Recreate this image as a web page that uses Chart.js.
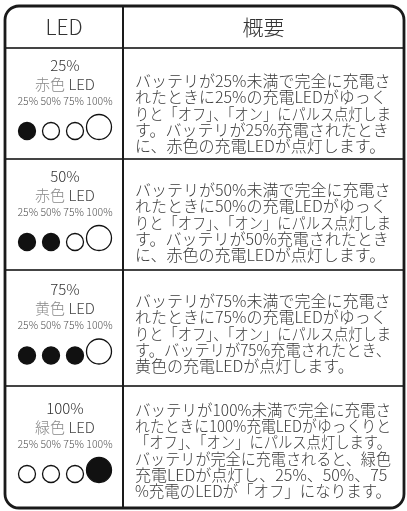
<!DOCTYPE html>
<html lang="ja">
<head>
<meta charset="utf-8">
<script src="https://cdn.jsdelivr.net/npm/chart.js@4"></script>
<style>
  html, body { margin: 0; padding: 0; background: #fff; }
  #wrap { width: 407px; height: 511px; position: relative; }
</style>
</head>
<body>
<div id="wrap"><canvas id="ledChart"></canvas></div>
<script>
// 充電レベル（行）
const levels = ['25%', '50%', '75%', '100%'];
const colorNames = ['赤色', '赤色', '黄色', '緑色'];
// LEDの並び（列）
const ledLabels = ['25%', '50%', '75%', '100%'];
// 点灯状態 1 = 点灯, 0 = 消灯
const ledStates = [
    [1, 0, 0, 0],
    [1, 1, 0, 0],
    [1, 1, 1, 0],
    [0, 0, 0, 1]
];
const headers = ['LED', '概要'];
const descriptions = [
    ['バッテリが25%未満で完全に充電さ',
     'れたときに25%の充電LEDがゆっく',
     'りと「オフ」、「オン」にパルス点灯しま',
     'す。バッテリが25%充電されたとき',
     'に、赤色の充電LEDが点灯します。'],
    ['バッテリが50%未満で完全に充電さ',
     'れたときに50%の充電LEDがゆっく',
     'りと「オフ」、「オン」にパルス点灯しま',
     'す。バッテリが50%充電されたとき',
     'に、赤色の充電LEDが点灯します。'],
    ['バッテリが75%未満で完全に充電さ',
     'れたときに75%の充電LEDがゆっく',
     'りと「オフ」、「オン」にパルス点灯しま',
     'す。バッテリが75%充電されたとき、',
     '黄色の充電LEDが点灯します。'],
    ['バッテリが100%未満で完全に充電さ',
     'れたときに100%充電LEDがゆっくりと',
     '「オフ」、「オン」にパルス点灯します。',
     'バッテリが完全に充電されると、緑色',
     '充電LEDが点灯し、25%、50%、75',
     '%充電のLEDが「オフ」になります。']
];

// 表のレイアウト（キャンバス座標）
const rowEdges = [48, 159, 270, 386, 507];
const textShift = [10, 8, 5.5, 4];
const box = { left: 5, top: 6, right: 404, bottom: 508, split: 123 };
const FONT = '"Noto Sans CJK JP", "Noto Sans", sans-serif';

function rowMid(i) { return (rowEdges[i] + rowEdges[i + 1]) / 2; }
function ledRadius(j) { return j === ledLabels.length - 1 ? 12.5 : 8.5; }

// LEDの丸（下端をそろえる）
const points = [];
levels.forEach((lv, i) => {
    ledLabels.forEach((led, j) => {
        points.push({ x: led, y: rowMid(i) + 36 - ledRadius(j), on: ledStates[i][j], r: ledRadius(j) });
    });
});

// 表の枠と文字
const tablePlugin = {
    id: 'ledTable',
    beforeDatasetsDraw(chart) {
        const ctx = chart.ctx;
        const y = chart.scales.y;
        ctx.save();
        ctx.fillStyle = '#fff';
        ctx.fillRect(0, 0, chart.width, chart.height);

        // 横線
        ctx.strokeStyle = '#444';
        ctx.lineWidth = 2;
        for (let i = 0; i < rowEdges.length - 1; i++) {
            const py = y.getPixelForValue(rowEdges[i]);
            ctx.beginPath();
            ctx.moveTo(box.left, py);
            ctx.lineTo(box.right, py);
            ctx.stroke();
        }
        // 縦線
        ctx.strokeStyle = '#1a1a1a';
        ctx.beginPath();
        ctx.moveTo(box.split, y.getPixelForValue(box.top));
        ctx.lineTo(box.split, y.getPixelForValue(box.bottom));
        ctx.stroke();
        // 外枠
        ctx.lineWidth = 2.8;
        ctx.beginPath();
        ctx.roundRect(box.left, box.top, box.right - box.left, box.bottom - box.top, 14);
        ctx.stroke();

        // 見出し
        ctx.fillStyle = '#333';
        ctx.textAlign = 'center';
        ctx.textBaseline = 'middle';
        ctx.font = '300 21px ' + FONT;
        const hy = (box.top + rowEdges[0]) / 2 + 0.5;
        ctx.fillText(headers[0], (box.left + box.split) / 2, hy);
        ctx.fillText(headers[1], (box.split + box.right) / 2, hy);

        const cx = (box.left + box.split) / 2 + 1;
        levels.forEach((lv, i) => {
            const mid = y.getPixelForValue(rowMid(i));
            ctx.textAlign = 'center';
            ctx.fillStyle = '#333';
            ctx.font = '300 15px ' + FONT;
            ctx.fillText(lv, cx, mid - 38.5);

            // 「赤色 LED」
            const a = colorNames[i] + ' ';
            const b = 'LED';
            const wa = ctx.measureText(a).width;
            const wb = ctx.measureText(b).width;
            const x0 = cx - (wa + wb) / 2;
            ctx.textAlign = 'left';
            ctx.fillStyle = '#888';
            ctx.fillText(a, x0, mid - 19.5);
            ctx.fillStyle = '#444';
            ctx.fillText(b, x0 + wa, mid - 19.5);

            ctx.textAlign = 'center';
            ctx.fillStyle = '#555';
            ctx.font = '300 10.5px ' + FONT;
            ctx.fillText(ledLabels.join(' '), cx, mid - 2.5, 100);

            // 概要
            const lines = descriptions[i];
            const lh = 16.2;
            const top = mid + textShift[i] - (lines.length - 1) * lh / 2;
            ctx.textAlign = 'left';
            ctx.fillStyle = '#3a3a3a';
            ctx.font = '300 16px ' + FONT;
            lines.forEach((t, k) => {
                ctx.fillText(t, 135, top + k * lh, 256);
            });
        });
        ctx.restore();
    }
};

new Chart(document.getElementById('ledChart'), {
    type: 'scatter',
    data: {
        datasets: [{
            data: points,
            clip: false,
            pointStyle: 'circle',
            pointRadius: c => c.raw.r,
            pointHoverRadius: c => c.raw.r,
            pointBorderWidth: 1.3,
            pointBorderColor: '#111',
            pointBackgroundColor: c => c.raw.on ? '#111' : '#fff'
        }]
    },
    options: {
        responsive: true,
        maintainAspectRatio: false,
        animation: false,
        events: [],
        layout: { autoPadding: false, padding: { left: 15, right: 296, top: 0, bottom: 0 } },
        plugins: { legend: { display: false }, tooltip: { enabled: false } },
        scales: {
            x: { type: 'category', labels: ledLabels, offset: true, display: false },
            y: { type: 'linear', min: 0, max: 511, reverse: true, display: false }
        }
    },
    plugins: [tablePlugin]
});
</script>
</body>
</html>
